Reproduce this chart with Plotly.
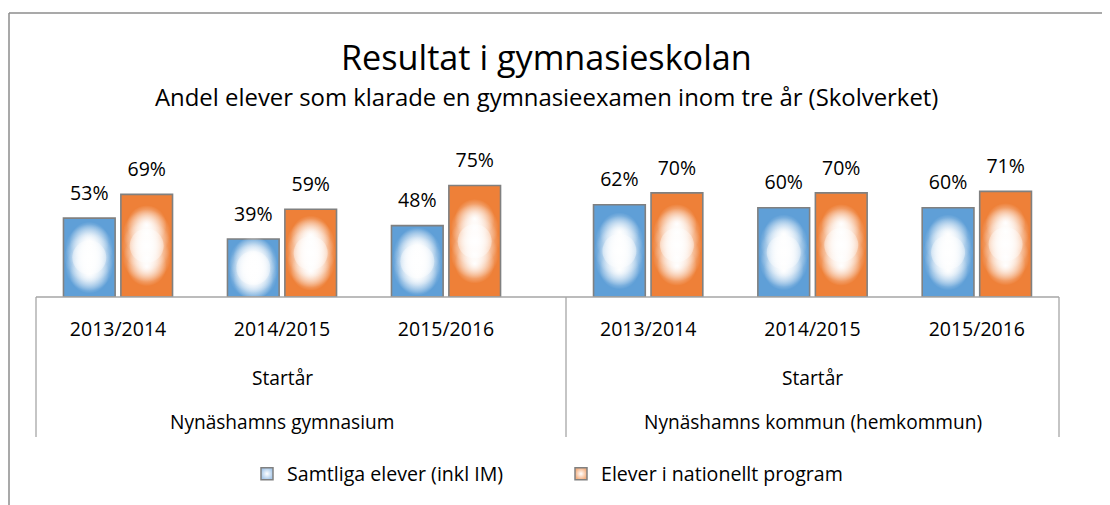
import plotly.graph_objects as go

# ---------------- data ----------------
years = ["2013/2014", "2014/2015", "2015/2016"]
groups = ["Nynäshamns gymnasium", "Nynäshamns kommun (hemkommun)"]
level2_label = "Startår"
series_names = ["Samtliga elever (inkl IM)", "Elever i nationellt program"]
samtliga_gym = [53, 39, 48]
nationellt_gym = [69, 59, 75]
samtliga_kommun = [62, 60, 60]
nationellt_kommun = [70, 70, 71]

title = "Resultat i gymnasieskolan"
subtitle = "Andel elever som klarade en gymnasieexamen inom tre år (Skolverket)"

# ---------------- style ----------------
OFF = 8                      # page body margin of the browser
W, H = 1110 - OFF, 505 - OFF
FONT = "Open Sans"
BLUE = "#5f9fd7"
ORANGE = "#ee8038"
colors = [BLUE, ORANGE]
legend_colors = ["#a9c9ea", "#f4b183"]
OUTLINE = "#808080"
AXIS = "#a6a6a6"

def xp(px):
    return (px - OFF) / W

def yp(py):
    return 1 - (py - OFF) / H

fig = go.Figure()

group_values = [[samtliga_gym, nationellt_gym], [samtliga_kommun, nationellt_kommun]]
axes = [("x", "y"), ("x2", "y2")]

# glow layers: (fraction of bar height, marker size, edge colour)
glow_layers = [
    (0.30, 40, "rgba(255,255,255,0)"),
    (0.70, 40, "rgba(255,255,255,0)"),
    (0.38, 48, "rgba(255,255,255,0)"),
    (0.62, 48, "rgba(255,255,255,0)"),
    (0.50, 50, "rgba(255,255,255,0)"),
    (0.50, 34, "rgba(255,255,255,0.35)"),
]

for gi, (xa, ya) in enumerate(axes):
    for si in range(2):
        vals = group_values[gi][si]
        og = "s%d" % si
        fig.add_trace(go.Bar(
            x=years, y=vals, xaxis=xa, yaxis=ya, offsetgroup=og,
            marker=dict(color=colors[si], line=dict(color=OUTLINE, width=1.6)),
            showlegend=False, hoverinfo="skip", name=series_names[si],
        ))
    for si in range(2):
        vals = group_values[gi][si]
        og = "s%d" % si
        # white radial glow inside each bar
        for frac, size, edge in glow_layers:
            fig.add_trace(go.Scatter(
                x=years, y=[v * frac for v in vals], xaxis=xa, yaxis=ya, offsetgroup=og,
                mode="markers",
                marker=dict(size=size, color=edge, symbol="circle",
                            gradient=dict(type="radial", color="white"),
                            line=dict(width=0)),
                showlegend=False, hoverinfo="skip",
            ))
        # value labels
        fig.add_trace(go.Scatter(
            x=years, y=vals, xaxis=xa, yaxis=ya, offsetgroup=og,
            mode="markers+text",
            marker=dict(size=20, color="rgba(0,0,0,0)"),
            text=["%d%%" % v for v in vals], textposition="top center",
            textfont=dict(family=FONT, size=19.5, color="#000"),
            showlegend=False, hoverinfo="skip", cliponaxis=False,
        ))

# legend entries
for si in range(2):
    fig.add_trace(go.Scatter(
        x=[None], y=[None], xaxis="x", yaxis="y", offsetgroup="s%d" % si,
        mode="markers", name=series_names[si],
        marker=dict(symbol="square", size=12, color=legend_colors[si],
                    gradient=dict(type="radial", color="white"),
                    line=dict(color=OUTLINE, width=1.5)),
        showlegend=True,
    ))

ydom = [yp(297), yp(178)]
common_x = dict(type="category", showline=False, showgrid=False, zeroline=False,
                ticks="outside", ticklen=15, tickcolor="rgba(0,0,0,0)",
                tickfont=dict(family=FONT, size=19.5, color="#000"), fixedrange=True)
common_y = dict(range=[0, 80], visible=False, showgrid=False, fixedrange=True)

fig.update_layout(
    width=W, height=H,
    margin=dict(l=0, r=0, t=0, b=0),
    paper_bgcolor="white", plot_bgcolor="rgba(0,0,0,0)",
    barmode="group", bargap=0.30, bargroupgap=0.10,
    scattermode="group", scattergap=0.30,
    xaxis=dict(domain=[xp(36), xp(528)], anchor="y", **common_x),
    xaxis2=dict(domain=[xp(566), xp(1059)], anchor="y2", **common_x),
    yaxis=dict(domain=ydom, anchor="x", **common_y),
    yaxis2=dict(domain=ydom, anchor="x2", **common_y),
    showlegend=True,
    legend=dict(orientation="h", x=xp(561), xanchor="center", y=yp(474), yanchor="middle",
                font=dict(family=FONT, size=19.6, color="#000"),
                itemwidth=30, entrywidth=269, bgcolor="rgba(0,0,0,0)"),
    font=dict(family=FONT, color="#000"),
)

annotations = [
    dict(text=title, x=xp(546), y=yp(57), xref="paper", yref="paper",
         showarrow=False, font=dict(family=FONT, size=34.2, color="#000"),
         xanchor="center", yanchor="middle"),
    dict(text=subtitle, x=xp(546), y=yp(97), xref="paper", yref="paper",
         showarrow=False, font=dict(family=FONT, size=23.9, color="#000"),
         xanchor="center", yanchor="middle"),
]
for gi, xa in enumerate(["x", "x2"]):
    annotations.append(dict(text=level2_label, xref="%s domain" % xa, x=0.5,
                            yref="paper", y=yp(377), showarrow=False,
                            font=dict(family=FONT, size=19.2, color="#000"),
                            xanchor="center", yanchor="middle"))
    annotations.append(dict(text=groups[gi], xref="%s domain" % xa, x=0.5,
                            yref="paper", y=yp(422), showarrow=False,
                            font=dict(family=FONT, size=19.1, color="#000"),
                            xanchor="center", yanchor="middle"))
fig.update_layout(annotations=annotations)

shapes = [
    # chart frame (top and left edges visible in the crop)
    dict(type="line", xref="paper", yref="paper", x0=xp(9), x1=1.0, y0=yp(13), y1=yp(13),
         line=dict(color="#8c8c8c", width=1.5)),
    dict(type="line", xref="paper", yref="paper", x0=xp(9), x1=xp(9), y0=yp(13), y1=0,
         line=dict(color="#8c8c8c", width=1.5)),
    # category axis line
    dict(type="line", xref="paper", yref="paper", x0=xp(36), x1=xp(1059), y0=yp(297), y1=yp(297),
         line=dict(color=AXIS, width=1.3)),
]
for px in [36, 566, 1059]:
    shapes.append(dict(type="line", xref="paper", yref="paper", x0=xp(px), x1=xp(px),
                       y0=yp(297), y1=yp(437), line=dict(color=AXIS, width=1.3)))
fig.update_layout(shapes=shapes)

fig.write_html("out.html")
